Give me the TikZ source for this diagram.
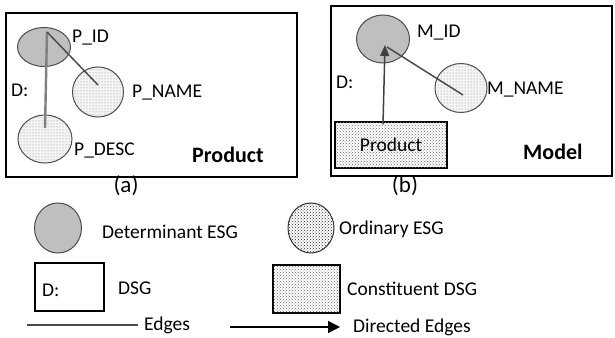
\documentclass[tikz,border=0pt]{standalone}
\usepackage{fontspec}
\setmainfont{Carlito}
\usetikzlibrary{shapes.geometric,patterns,arrows.meta}

\begin{document}
\begin{tikzpicture}[x=1pt,y=-1pt]
\tikzstyle{every node}+=[inner sep=0pt, font=\fontsize{19.5}{22}\selectfont]
\tikzstyle{detesg}=[ellipse, draw=black!70, line width=1pt, fill=black!25]
\tikzstyle{ordesg}=[ellipse, draw=black!70, line width=1pt, fill=black!4, postaction={pattern=dots, pattern color=black!50}]
\tikzstyle{legord}=[ellipse, draw=black!80, line width=1pt, fill=white, postaction={pattern=crosshatch dots, pattern color=black!85}]
\tikzstyle{condsg}=[rectangle, draw=black, line width=1.3pt, fill=white, postaction={pattern=crosshatch dots, pattern color=black!60}]
\tikzstyle{frame}=[black, line width=1.5pt]
\tikzstyle{edge}=[line width=1.5pt, black!70]
\useasboundingbox (0,0) rectangle (615,337);
% (a) Product
\draw [frame] (6,13) rectangle (297,177);
\node [detesg, minimum width=53, minimum height=39] (pid) at (44,47) {};
\node [ordesg, minimum width=51, minimum height=50] (pname) at (98,92) {};
\node [ordesg, minimum width=54, minimum height=48] (pdesc) at (45,139) {};
\draw [line width=2.4pt, black!50] ([xshift=3pt,yshift=15pt]pid.center) -- ([yshift=11pt]pdesc.center);
\draw [edge] ([xshift=3pt,yshift=15pt]pid.center) -- ([yshift=7pt]pname.center);
\node [anchor=west] (pidlbl) at (72,38) {P\_ID};
\node [anchor=west] (pnamelbl) at (132,93) {P\_NAME};
\node [anchor=west] (pdesclbl) at (74,150) {P\_DESC};
\node [anchor=west] (dlbla) at (11,90) {D:};
\node [anchor=west, font=\fontsize{22}{24}\bfseries] (prodlbl) at (192,155) {Product};
\node (capa) at (126,186) {\fontsize{23}{26}\selectfont (a)};
% (b) Model
\draw [frame] (331,6) rectangle (612,176);
\node [detesg, minimum width=53, minimum height=48] (mid) at (383,39) {};
\node [ordesg, minimum width=52, minimum height=49] (mname) at (461,88) {};
\node [condsg, minimum width=112, minimum height=46] (prod) at (391,145) {Product};
\draw [edge] ([xshift=4pt,yshift=-8pt]mid.center) -- ([xshift=2pt,yshift=-7pt]mname.center);
\draw [line width=1.5pt, black!75, -{Triangle[length=11pt,width=9pt]}] ([xshift=-8pt,yshift=-3pt]prod.north) -- ([xshift=2pt,yshift=-6pt]mid.center);
\node [anchor=west] (midlbl) at (417,33) {M\_ID};
\node [anchor=west] (mnamelbl) at (487,90) {M\_NAME};
\node [anchor=west] (dlblb) at (336,82) {D:};
\node [anchor=west, font=\fontsize{22}{24}\bfseries] (modellbl) at (523,152) {Model};
\node (capb) at (405,186) {\fontsize{23}{26}\selectfont (b)};
% legend
\node [detesg, minimum width=47, minimum height=50] (legdet) at (58,228) {};
\node [anchor=west] (legdetlbl) at (102,232) {Determinant ESG};
\node [legord, minimum width=46, minimum height=50] (legord) at (311,228) {};
\node [anchor=west] (legordlbl) at (339,229) {Ordinary ESG};
\node [draw=black, line width=1.2pt, minimum width=69, minimum height=48] (legdsg) at (69.5,287) {};
\node [anchor=west] (legdlbl) at (42,290) {D:};
\node [anchor=west] (legdsglbl) at (118,288) {DSG};
\node [condsg, minimum width=67, minimum height=48] (legcon) at (306.5,289) {};
\node [anchor=west] (legconlbl) at (347,289) {Constituent DSG};
\coordinate (edgea) at (27,325);
\coordinate (edgeb) at (138,325);
\draw [edge] (edgea) -- (edgeb);
\node [anchor=west] (edgelbl) at (144,325) {Edges};
\coordinate (diredgea) at (230,327);
\coordinate (diredgeb) at (340,327);
\draw [line width=1.5pt, black, -{Triangle[length=12pt,width=12pt]}] (diredgea) -- (diredgeb);
\node [anchor=west] (diredgelbl) at (353,327) {Directed Edges};
\end{tikzpicture}
\end{document}
